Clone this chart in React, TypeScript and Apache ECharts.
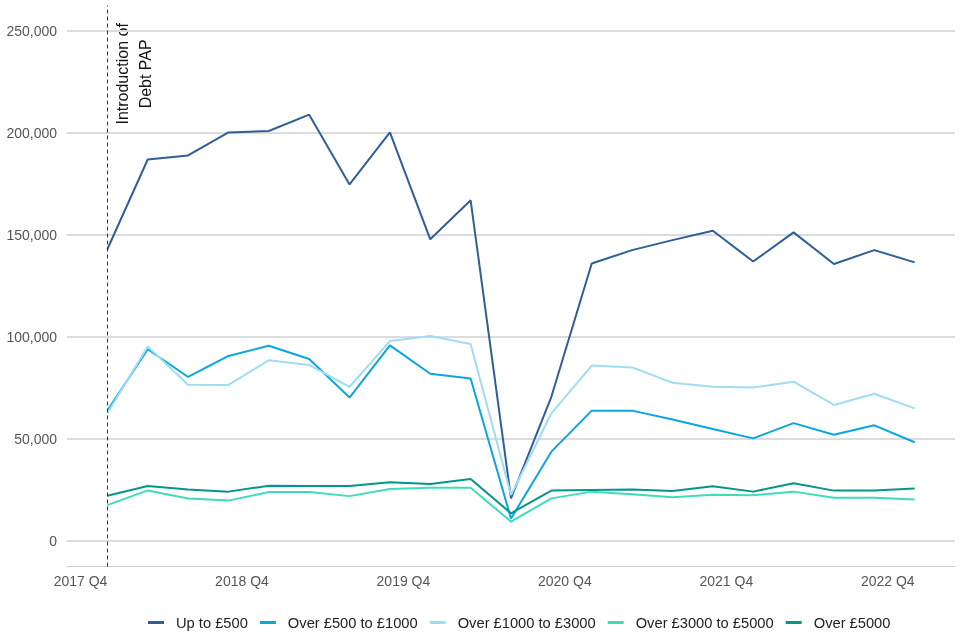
import React, { useEffect, useRef } from "react";
import * as echarts from "echarts";

const quarters = [
  "2017 Q4", "2018 Q1", "2018 Q2", "2018 Q3", "2018 Q4", "2019 Q1", "2019 Q2",
  "2019 Q3", "2019 Q4", "2020 Q1", "2020 Q2", "2020 Q3", "2020 Q4", "2021 Q1",
  "2021 Q2", "2021 Q3", "2021 Q4", "2022 Q1", "2022 Q2", "2022 Q3", "2022 Q4",
];

const upTo500 = [
  143000, 187000, 189000, 200300, 201000, 209000, 174800, 200300, 147900, 167000,
  20900, 70700, 136000, 142600, 147500, 152100, 137000, 151300, 135800, 142600, 136600,
];
const over500to1000 = [
  63900, 94000, 80400, 90700, 95700, 89200, 70300, 95900, 82000, 79700,
  11000, 43800, 63900, 63900, 59600, 54900, 50300, 57800, 52100, 56700, 48400,
];
const over1000to3000 = [
  62600, 95300, 76600, 76500, 88600, 86300, 75600, 98000, 100500, 96600,
  22500, 62600, 86000, 85100, 77600, 75600, 75200, 78100, 66700, 72200, 65000,
];
const over3000to5000 = [
  17600, 24800, 20800, 19800, 24000, 24000, 22000, 25500, 26100, 26100,
  9500, 20900, 24200, 22900, 21400, 22700, 22400, 24200, 21200, 21200, 20400,
];
const over5000 = [
  22200, 27000, 25300, 24200, 27100, 27000, 27000, 28800, 27900, 30400,
  13600, 24700, 25000, 25300, 24500, 26800, 24200, 28300, 24700, 24700, 25700,
];

const seriesNames = [
  "Up to £500",
  "Over £500 to £1000",
  "Over £1000 to £3000",
  "Over £3000 to £5000",
  "Over £5000",
];
const seriesColors = ["#2e5f97", "#0aa6de", "#9fddf4", "#3fdcbb", "#04968a"];
const seriesData = [upTo500, over500to1000, over1000to3000, over3000to5000, over5000];

const xTickIndices = [0, 4, 8, 12, 16, 20];
const yTicks = [0, 50000, 100000, 150000, 200000, 250000];
const annotationText = "Introduction of\nDebt PAP";

const FONT = "'Liberation Sans', Arial, Helvetica, sans-serif";

export default function App() {
  const ref = useRef<HTMLDivElement>(null);

  useEffect(() => {
    if (!ref.current) return;
    const chart = echarts.init(ref.current, null, { renderer: "svg" });

    const series: any[] = seriesNames.map((name, i) => ({
      name,
      type: "line",
      data: seriesData[i].map((v, idx) => [idx, v]),
      symbol: "none",
      lineStyle: { width: 2, color: seriesColors[i] },
      itemStyle: { color: seriesColors[i] },
      z: 3,
    }));

    series[0].markLine = {
      silent: true,
      symbol: "none",
      z: 1,
      label: { show: false },
      lineStyle: { color: "#dcdcdc", width: 2, type: "solid" },
      data: yTicks.map((v) => ({ yAxis: v })),
    };
    series[1].markLine = {
      silent: true,
      symbol: "none",
      z: 5,
      label: { show: false },
      lineStyle: { color: "#333333", width: 1, type: [4, 3] },
      data: [{ xAxis: 0 }],
    };

    chart.setOption({
      animation: false,
      textStyle: { fontFamily: FONT },
      grid: { left: 67, right: 5, top: 5.5, bottom: 73.5 },
      xAxis: {
        type: "value",
        min: -1,
        max: 21,
        axisLine: { show: true, onZero: false, lineStyle: { color: "#cccccc", width: 1 } },
        axisTick: { show: false },
        splitLine: { show: false },
        axisLabel: {
          customValues: xTickIndices,
          formatter: (v: number) => quarters[Math.round(v)] ?? "",
          align: "right",
          color: "#555555",
          fontSize: 14,
          fontFamily: FONT,
          margin: 7,
        },
      },
      yAxis: {
        type: "value",
        min: -12500,
        max: 262500,
        interval: 12500,
        axisLine: { show: false },
        axisTick: { show: false },
        splitLine: { show: false },
        axisLabel: {
          formatter: (v: number) =>
            v >= 0 && v % 50000 === 0 && v <= 250000 ? v.toLocaleString("en-GB") : "",
          color: "#555555",
          fontSize: 14,
          fontFamily: FONT,
          margin: 10,
        },
      },
      legend: {
        top: 610,
        left: 143,
        itemWidth: 16,
        itemHeight: 3,
        itemGap: 12,
        icon: "rect",
        textStyle: {
          color: "#222222",
          fontSize: 14.7,
          fontFamily: FONT,
          padding: [0, 0, 0, 7],
        },
        data: seriesNames.map((n) => ({ name: n, icon: "rect" })),
      },
      series,
    });

    const px = chart.convertToPixel({ xAxisIndex: 0 }, 0) as number;
    const py = chart.convertToPixel({ yAxisIndex: 0 }, 229000) as number;
    chart.setOption({
      graphic: [
        {
          type: "text",
          x: px + 27,
          y: py,
          rotation: Math.PI / 2,
          silent: true,
          style: {
            text: annotationText,
            align: "center",
            verticalAlign: "middle",
            fontSize: 16,
            lineHeight: 23,
            fill: "#111111",
            fontFamily: FONT,
          },
        },
      ],
    });

    return () => chart.dispose();
  }, []);

  return (
    <div
      ref={ref}
      style={{ position: "fixed", left: 0, top: 0, width: 960, height: 640 }}
    />
  );
}
